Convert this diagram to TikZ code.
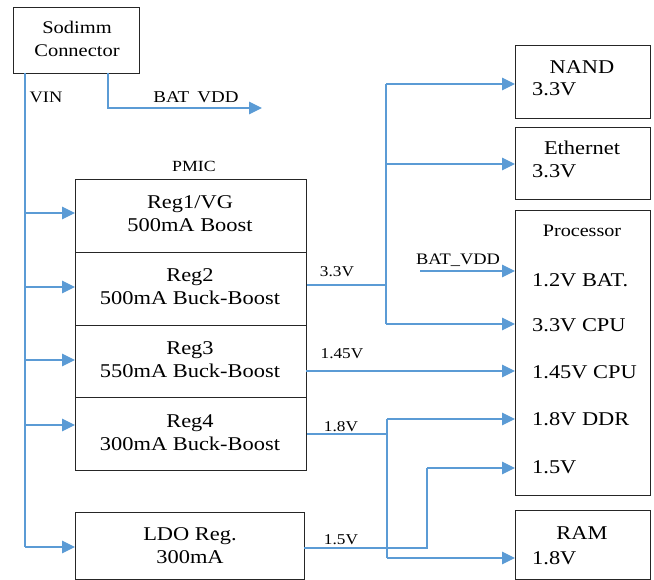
\documentclass[tikz,border=0pt]{standalone}
\usepackage{fontspec}
\setmainfont{Liberation Serif}[FakeStretch=1.15]
\usetikzlibrary{arrows.meta}
\definecolor{wirec}{HTML}{5B9BD5}
\begin{document}
\begin{tikzpicture}[x=1pt,y=-1pt,
  box/.style={draw=black!85, line width=1pt, inner sep=0pt, anchor=north west},
  wire/.style={draw=wirec, line width=1.2pt},
  arr/.style={wire, -{Triangle[length=13pt,width=12.5pt]}},
  big/.style={font=\fontsize{19.5}{23}\selectfont, align=center, inner sep=0pt},
  mid/.style={font=\fontsize{17.8}{23}\selectfont, align=center, inner sep=0pt},
  small/.style={font=\fontsize{15}{17}\selectfont, inner sep=0pt},
]
\useasboundingbox (0,0) rectangle (654,580);

% boxes
\node[box, minimum width=126pt, minimum height=66pt] (sod) at (13,7) {};
\node[box, minimum width=231pt, minimum height=73pt] (reg1) at (75,179) {};
\node[box, minimum width=231pt, minimum height=73pt] (reg2) at (75,252) {};
\node[box, minimum width=231pt, minimum height=72pt] (reg3) at (75,325) {};
\node[box, minimum width=231pt, minimum height=73pt] (reg4) at (75,397) {};
\node[box, minimum width=229pt, minimum height=67pt] (ldo) at (75,512) {};
\node[box, minimum width=135pt, minimum height=73pt] (nand) at (515,45) {};
\node[box, minimum width=135pt, minimum height=72pt] (eth) at (515,127) {};
\node[box, minimum width=135pt, minimum height=285pt] (proc) at (515,210) {};
\node[box, minimum width=135pt, minimum height=69pt] (ram) at (515,510) {};

% texts
\node[mid] (tsod) at (77,39) {Sodimm\\Connector};
\node[small, font=\fontsize{16}{18}\selectfont] (tvin) at (46,97) {VIN};
\node[small, font=\fontsize{16.5}{18}\selectfont] (tbat1) at (196,97) {BAT\enspace VDD};
\node[small, font=\fontsize{15.5}{18}\selectfont] (tpmic) at (194,166) {PMIC};
\node[big] (t1) at (190,214) {Reg1/VG\\500mA Boost};
\node[big] (t2) at (190,287) {Reg2\\500mA Buck-Boost};
\node[big] (t3) at (190,360) {Reg3\\550mA Buck-Boost};
\node[big] (t4) at (190,433) {Reg4\\300mA Buck-Boost};
\node[big] (t5) at (190,546) {LDO Reg.\\300mA};
\node[big] (tnand) at (582,67) {NAND};
\node[big, anchor=west] (tnandv) at (532,89) {3.3V};
\node[big] (teth) at (582,148) {Ethernet};
\node[big, anchor=west] (tethv) at (532,171) {3.3V};
\node[mid, font=\fontsize{17.5}{20}\selectfont] (tproc) at (582,231) {Processor};
\node[big, anchor=west] (p1) at (532,280) {1.2V BAT.};
\node[big, anchor=west] (p2) at (532,325) {3.3V CPU};
\node[big, anchor=west] (p3) at (532,372) {1.45V CPU};
\node[big, anchor=west] (p4) at (532,419) {1.8V DDR};
\node[big, anchor=west] (p5) at (532,467) {1.5V};
\node[big] (tram) at (582,533) {RAM};
\node[big, anchor=west] (tramv) at (532,558) {1.8V};
\node[small] (l33) at (337,272) {3.3V};
\node[small, font=\fontsize{16}{18}\selectfont] (lbat) at (458,260) {BAT\_VDD};
\node[small] (l145) at (342,354) {1.45V};
\node[small] (l18) at (341,427) {1.8V};
\node[small] (l15) at (341,540) {1.5V};

% junction coordinates
\coordinate (vtop) at (25,73);
\coordinate (vbot) at (25,547);
\coordinate (btop) at (108,73);
\coordinate (bend) at (262,108);
\coordinate (j33top) at (386,84);
\coordinate (j33) at (386,285);
\coordinate (j33bot) at (386,324);
\coordinate (bvs) at (420,271);
\coordinate (j145) at (306,371);
\coordinate (j18top) at (387,419);
\coordinate (j18) at (387,434);
\coordinate (j18bot) at (387,558);
\coordinate (l15a) at (304,548);
\coordinate (j15) at (427,548);
\coordinate (j15top) at (427,468);

% VIN wiring
\draw[wire] (vtop) -- (vbot);
\draw[arr] (vtop |- 0,213) -- (reg1.west |- 0,213);
\draw[arr] (vtop |- 0,287) -- (reg2.west |- 0,287);
\draw[arr] (vtop |- 0,360) -- (reg3.west |- 0,360);
\draw[arr] (vtop |- 0,425) -- (reg4.west |- 0,425);
\draw[arr] (vbot) -- (vbot -| ldo.west);
\draw[arr] (btop) |- (bend);

% 3.3V
\draw[wire] (reg2.east |- j33) -- (j33);
\draw[wire] (j33top) -- (j33bot);
\draw[arr] (j33top) -- (j33top -| nand.west);
\draw[arr] (j33 |- 0,164) -- (nand.west |- 0,164);
\draw[arr] (j33bot) -- (j33bot -| proc.west);
% BAT_VDD
\draw[arr] (bvs) -- (bvs -| proc.west);
% 1.45V
\draw[arr] (j145) -- (j145 -| proc.west);
% 1.8V
\draw[wire] (reg4.east |- j18) -- (j18);
\draw[wire] (j18top) -- (j18bot);
\draw[arr] (j18top) -- (j18top -| proc.west);
\draw[arr] (j18bot) -- (j18bot -| ram.west);
% 1.5V
\draw[wire] (l15a) -- (j15) -- (j15top);
\draw[arr] (j15top) -- (j15top -| proc.west);
\end{tikzpicture}
\end{document}
